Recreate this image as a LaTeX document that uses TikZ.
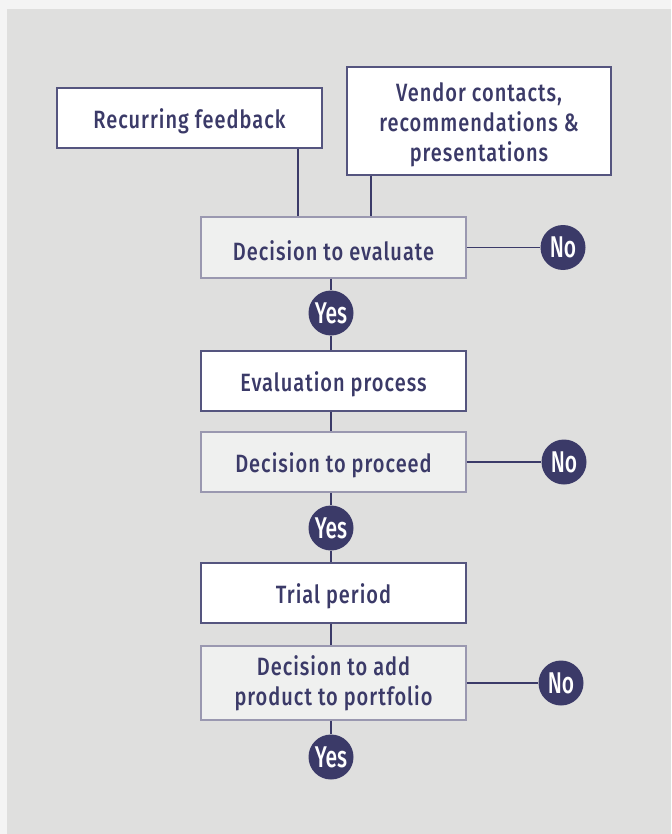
\documentclass[tikz,border=0pt]{standalone}
\usepackage{fontspec}
\setmainfont{Fira Sans}[BoldFont={* Medium},FakeStretch=0.8,LetterSpace=4]
\newfontfamily\circfont{Fira Sans}[BoldFont={* Medium},FakeStretch=0.7]
\definecolor{navy}{HTML}{3B3A68}
\definecolor{bgout}{HTML}{F4F4F4}
\definecolor{bgin}{HTML}{DFDFDE}
\definecolor{decfill}{HTML}{EFF0EF}
\definecolor{wborder}{HTML}{55557F}
\definecolor{dborder}{HTML}{9A98B0}
\newcommand{\lowline}[1]{\raisebox{-4pt}[\height][\depth]{#1}}
\begin{document}
\begin{tikzpicture}[x=1pt,y=-1pt,
  box/.style={draw=wborder,line width=1.3pt,fill=white,inner sep=0pt,minimum width=265pt,minimum height=60pt,
    text=navy,font=\fontsize{25}{30}\selectfont\bfseries,align=center,
    execute at begin node={\rule{0pt}{26pt}}},
  decbox/.style={box,draw=dborder,fill=decfill},
  yn/.style={circle,fill=navy,inner sep=0pt,minimum size=45pt,text=white,font=\circfont\fontsize{30}{30}\selectfont\bfseries},
  conn/.style={draw=navy,line width=1.8pt}]
\fill[bgout] (0,0) rectangle (671,834);
\fill[bgin] (7,9) rectangle (671,834);
\useasboundingbox (0,0) rectangle (671,834);
\node[box] (rf) at (189.5,118) {Recurring feedback};
\node[box,minimum width=264pt,minimum height=108pt] (vc) at (479,121) {\lowline{Vendor contacts,}\\\lowline{recommendations \&}\\\lowline{presentations}};
\node[decbox,minimum height=61pt] (de) at (333.5,247.5) {Decision to evaluate};
\node[box] (ep) at (333.5,381) {Evaluation process};
\node[decbox] (dp) at (333.5,462) {Decision to proceed};
\node[box] (tp) at (333.5,593) {Trial period};
\node[decbox,minimum height=74pt] (da) at (333.5,683) {Decision to add\\product to portfolio};
\node[yn] (y1) at (331,313) {Yes};
\node[yn] (n1) at (563,247.5) {No};
\node[yn] (y2) at (331,528) {Yes};
\node[yn] (n2) at (564,462) {No};
\node[yn] (y3) at (331,757) {Yes};
\node[yn] (n3) at (561,683) {No};
\coordinate (c1) at (298,0);
\coordinate (c2) at (371,0);
\draw[conn] (rf.south -| c1) -- (de.north -| c1);
\draw[conn] (vc.south -| c2) -- (de.north -| c2);
\draw[conn] (de.east) -- (n1);
\draw[conn] (dp.east) -- (n2);
\draw[conn] (da.east) -- (n3);
\draw[conn] (de.south -| y1) -- (y1);
\draw[conn] (y1) -- (ep.north -| y1);
\draw[conn] (ep.south -| y1) -- (dp.north -| y1);
\draw[conn] (dp.south -| y2) -- (y2);
\draw[conn] (y2) -- (tp.north -| y2);
\draw[conn] (tp.south -| y2) -- (da.north -| y2);
\draw[conn] (da.south -| y3) -- (y3);
\end{tikzpicture}
\end{document}
